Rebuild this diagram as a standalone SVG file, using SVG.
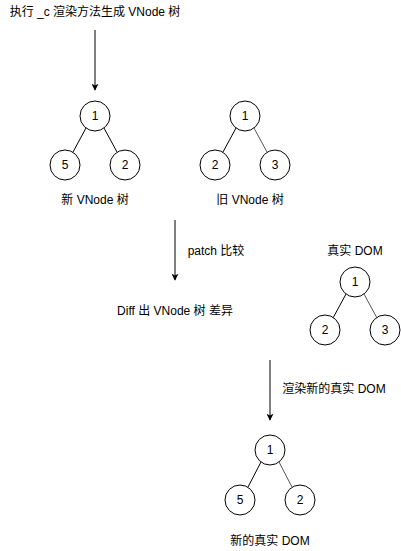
<svg xmlns="http://www.w3.org/2000/svg" width="401" height="551" viewBox="0 0 401 551">
<defs>
<marker id="ah" viewBox="0 0 10 10" refX="9" refY="5" markerWidth="7" markerHeight="7" markerUnits="userSpaceOnUse" orient="auto">
<path d="M0,0 L10,5 L0,10 L2.5,5 Z" fill="#000"/>
</marker>
<style>
text{font-family:"Liberation Sans","Noto Sans CJK SC",sans-serif;font-size:12px;fill:#000;text-anchor:middle;dominant-baseline:central}
.n{fill:#fff;stroke:#000;stroke-width:1}
.e{stroke:#000;stroke-width:1;fill:none}
.g{stroke:#555;stroke-width:1;fill:none}
.a{stroke:#000;stroke-width:1;fill:none;marker-end:url(#ah)}
</style>
</defs>
<rect width="401" height="551" fill="#fff"/>
<g id="connectors">
<line class="a" x1="95" y1="30" x2="95" y2="90"/>
<line class="a" x1="175" y1="220" x2="175" y2="280"/>
<line class="a" x1="270" y1="360" x2="270" y2="420"/>
<line class="e" x1="86" y1="128" x2="73" y2="152"/>
<line class="e" x1="104" y1="128" x2="117" y2="152"/>
<line class="e" x1="236" y1="128" x2="223" y2="152"/>
<line class="g" x1="254" y1="128" x2="267" y2="152"/>
<line class="e" x1="346" y1="294" x2="333" y2="318"/>
<line class="g" x1="364" y1="294" x2="377" y2="318"/>
<line class="e" x1="261" y1="462" x2="248" y2="487"/>
<line class="g" x1="279" y1="462" x2="292" y2="487"/>
</g>
<g id="title"><text x="95" y="12">执行 _c 渲染方法生成 VNode 树</text></g>
<g id="new1"><circle class="n" cx="95" cy="116" r="15"/><text x="95" y="116">1</text></g>
<g id="new5"><circle class="n" cx="65" cy="165" r="15"/><text x="65" y="165">5</text></g>
<g id="new2"><circle class="n" cx="125" cy="165" r="15"/><text x="125" y="165">2</text></g>
<g id="newLabel"><text x="95" y="200">新 VNode 树</text></g>
<g id="old1"><circle class="n" cx="245" cy="116" r="15"/><text x="245" y="116">1</text></g>
<g id="old2"><circle class="n" cx="215" cy="165" r="15"/><text x="215" y="165">2</text></g>
<g id="old3"><circle class="n" cx="275" cy="165" r="15"/><text x="275" y="165">3</text></g>
<g id="oldLabel"><text x="250" y="200">旧 VNode 树</text></g>
<g id="patchLabel"><text x="216" y="251">patch 比较</text></g>
<g id="diffLabel"><text x="175" y="311">Diff 出 VNode 树 差异</text></g>
<g id="domLabel"><text x="355" y="251">真实 DOM</text></g>
<g id="dom1"><circle class="n" cx="355" cy="282" r="15"/><text x="355" y="282">1</text></g>
<g id="dom2"><circle class="n" cx="325" cy="330" r="15"/><text x="325" y="330">2</text></g>
<g id="dom3"><circle class="n" cx="385" cy="330" r="15"/><text x="385" y="330">3</text></g>
<g id="renderLabel"><text x="334" y="389">渲染新的真实 DOM</text></g>
<g id="res1"><circle class="n" cx="270" cy="450" r="15"/><text x="270" y="450">1</text></g>
<g id="res5"><circle class="n" cx="240" cy="500" r="15"/><text x="240" y="500">5</text></g>
<g id="res2"><circle class="n" cx="300" cy="500" r="15"/><text x="300" y="500">2</text></g>
<g id="resLabel"><text x="270" y="541">新的真实 DOM</text></g>
</svg>
